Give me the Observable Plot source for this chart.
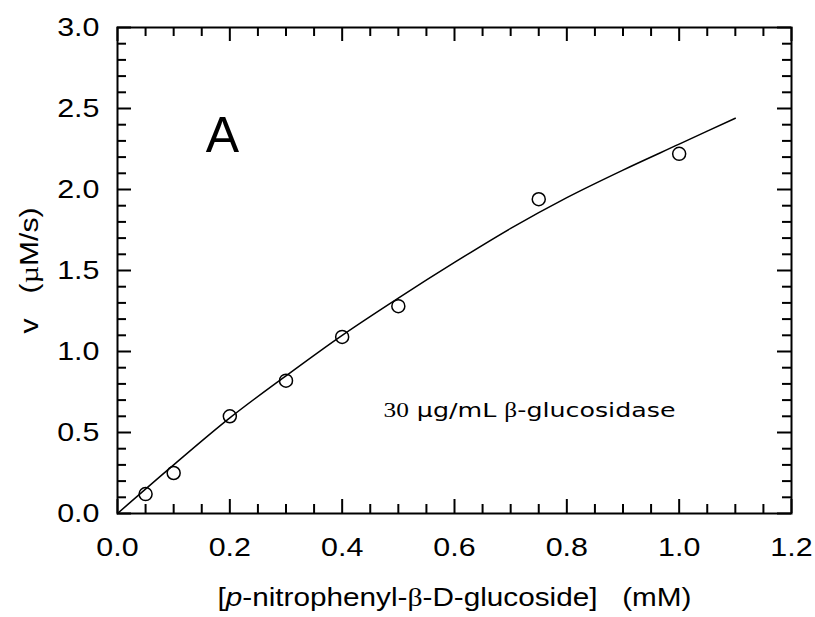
<!DOCTYPE html>
<html>
<head>
<meta charset="utf-8">
<script src="https://cdn.jsdelivr.net/npm/d3@7"></script>
<script src="https://cdn.jsdelivr.net/npm/@observablehq/plot@0.6"></script>
<style>
  html, body { margin: 0; padding: 0; background: #fff; }
</style>
</head>
<body>
<div id="chart"></div>
<script>
// Measured data points
const substrate = [0.05, 0.1, 0.2, 0.3, 0.4, 0.5, 0.75, 1.0];
const velocity  = [0.12, 0.25, 0.60, 0.82, 1.09, 1.28, 1.94, 2.22];

// Fitted curve
const fitSubstrate = [0, 0.1, 0.2, 0.3, 0.4, 0.5, 0.6, 0.7, 0.8, 0.9, 1.0, 1.1];
const fitVelocity  = [0, 0.30, 0.59, 0.85, 1.10, 1.33, 1.55, 1.76, 1.95, 2.12, 2.28, 2.44];

// Ticks
const xMajor = [0, 0.2, 0.4, 0.6, 0.8, 1.0, 1.2];
const xMinor = [0.05, 0.1, 0.15, 0.25, 0.3, 0.35, 0.45, 0.5, 0.55, 0.65, 0.7, 0.75, 0.85, 0.9, 0.95, 1.05, 1.1, 1.15];
const yMajor = [0, 0.5, 1.0, 1.5, 2.0, 2.5, 3.0];
const yMinor = [0.1, 0.2, 0.3, 0.4, 0.6, 0.7, 0.8, 0.9, 1.1, 1.2, 1.3, 1.4, 1.6, 1.7, 1.8, 1.9, 2.1, 2.2, 2.3, 2.4, 2.6, 2.7, 2.8, 2.9];

// Texts
const xLabel = "[p-nitrophenyl-β-D-glucoside]   (mM)";
const yLabel = "v   (µM/s)";
const panelLabel = "A";
const note = "30 µg/mL β-glucosidase";

const points = substrate.map((s, i) => ({s, v: velocity[i]}));
const fit = fitSubstrate.map((s, i) => ({s, v: fitVelocity[i]}));

const W = 815, H = 617;
const mL = 117, mR = 24, mT = 27, mB = 104;
const pw = W - mL - mR, ph = H - mT - mB;
const majorLen = 14, minorLen = 9;
const tk = {stroke: "#000", strokeWidth: 2};

const chart = Plot.plot({
  width: W, height: H,
  marginLeft: mL, marginRight: mR, marginTop: mT, marginBottom: mB,
  style: {fontFamily: "'Liberation Sans', Arial, sans-serif", background: "#fff", color: "#000", overflow: "visible"},
  x: {domain: [0, 1.2]},
  y: {domain: [0, 3.0]},
  marks: [
    // inward ticks: bottom / top
    Plot.ruleX(xMajor, {...tk, insetTop: ph - majorLen}),
    Plot.ruleX(xMinor, {...tk, insetTop: ph - minorLen}),
    Plot.ruleX(xMajor, {...tk, insetBottom: ph - majorLen}),
    Plot.ruleX(xMinor, {...tk, insetBottom: ph - minorLen}),
    // left / right
    Plot.ruleY(yMajor, {...tk, insetRight: pw - majorLen}),
    Plot.ruleY(yMinor, {...tk, insetRight: pw - minorLen}),
    Plot.ruleY(yMajor, {...tk, insetLeft: pw - majorLen}),
    Plot.ruleY(yMinor, {...tk, insetLeft: pw - minorLen}),
    Plot.frame({stroke: "#000", strokeWidth: 2}),
    Plot.axisX(xMajor, {tickSize: 0, tickPadding: 24, fontSize: 26, tickFormat: d3.format(".1f"), label: null}),
    Plot.axisY(yMajor, {tickSize: 0, tickPadding: 18, fontSize: 26, tickFormat: d3.format(".1f"), label: null}),
    Plot.line(fit, {x: "s", y: "v", curve: "monotone-x", stroke: "#000", strokeWidth: 1.5}),
    Plot.dot(points, {x: "s", y: "v", r: 6.5, stroke: "#000", strokeWidth: 1.5, fill: "none"}),
    Plot.text([panelLabel], {text: d => d, frameAnchor: "top-left", dx: 105, dy: 108, fontSize: 50, textAnchor: "middle", lineAnchor: "middle"}),
    Plot.text([note], {text: d => d, frameAnchor: "top-left", dx: 266, dy: 383, fontSize: 20, textAnchor: "start", lineAnchor: "middle", fontFamily: "'DejaVu Sans', Verdana, sans-serif"}),
    Plot.text([xLabel], {text: d => d, frameAnchor: "bottom", dy: 84, fontSize: 26, textAnchor: "middle", lineAnchor: "middle"}),
    Plot.text([yLabel], {text: d => d, frameAnchor: "left", dx: -88, rotate: -90, fontSize: 26, textAnchor: "middle", lineAnchor: "middle"})
  ]
});

document.getElementById("chart").appendChild(chart);

// Rich text: italic p, serif Greek letters and digits; horizontal stretch like the reference
const svgNS = "http://www.w3.org/2000/svg";
function rich(t, parts) {
  t.textContent = "";
  t.setAttribute("style", "white-space: pre");
  for (const [str, attrs] of parts) {
    const s = document.createElementNS(svgNS, "tspan");
    s.textContent = str;
    for (const k in attrs) s.setAttribute(k, attrs[k]);
    t.appendChild(s);
  }
}
function stretch(t, len) {
  t.setAttribute("textLength", len);
  t.setAttribute("lengthAdjust", "spacingAndGlyphs");
}
const serif = {"font-family": "'Liberation Serif', 'Times New Roman', serif"};
chart.querySelectorAll('g[aria-label="x-axis tick label"] text, g[aria-label="y-axis tick label"] text').forEach(t => {
  stretch(t, t.getComputedTextLength() * 1.17);
});
chart.querySelectorAll("text").forEach(t => {
  const c = t.textContent;
  if (c === xLabel) {
    rich(t, [["[", {}], ["p", {"font-style": "italic"}], ["-nitrophenyl-", {}], ["β", serif], ["-D-glucoside]   (mM)", {}]]);
    stretch(t, 474);
  } else if (c === note) {
    rich(t, [["30", serif], [" µg/mL ", {}], ["β", serif], ["-glucosidase", {}]]);
    stretch(t, 292);
  } else if (c === yLabel) {
    rich(t, [["v   (", {}], ["µ", serif], ["M/s)", {}]]);
    stretch(t, 126);
  }
});
</script>
</body>
</html>
